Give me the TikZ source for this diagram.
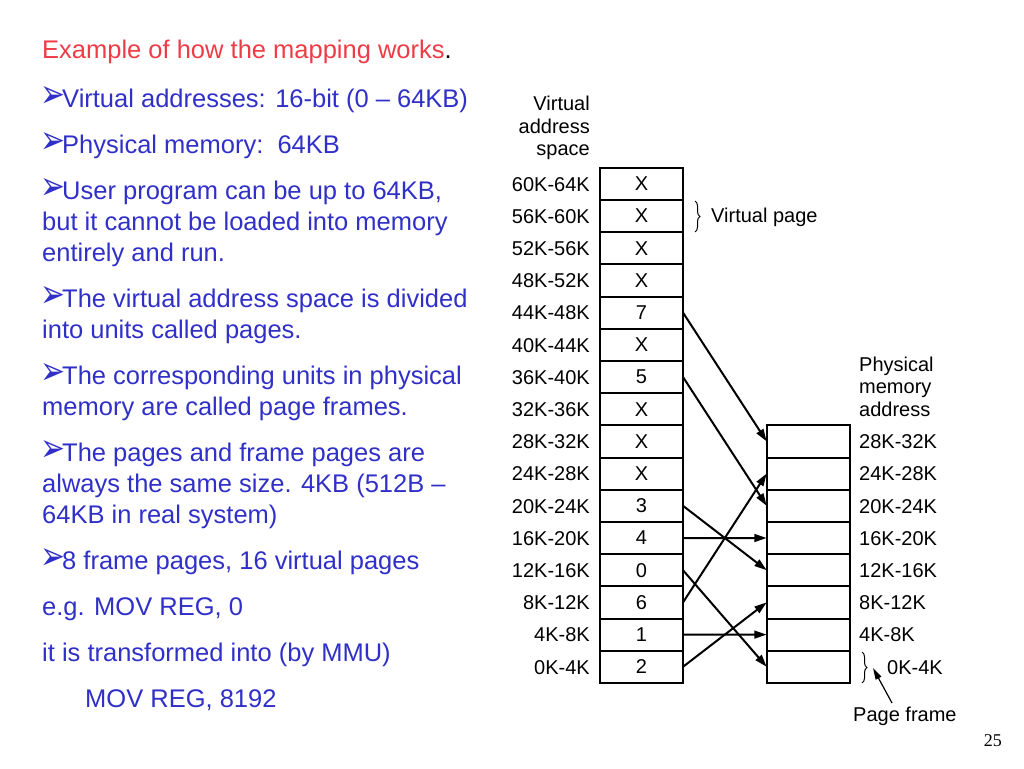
\documentclass[tikz,border=0pt]{standalone}
\usepackage{fontspec}
\setmainfont{Liberation Sans}
\newfontfamily\dingfont{DejaVu Sans}
\newfontfamily\numfont{Liberation Serif}
\usetikzlibrary{arrows.meta,decorations.pathreplacing}
\definecolor{slideblue}{RGB}{48,48,200}
\definecolor{slidered}{RGB}{238,60,70}
\newcommand{\bul}{\makebox[20pt][l]{\hspace{-2pt}\raisebox{0pt}{\resizebox{25pt}{21pt}{\dingfont ➢}}}}

\begin{document}
\begin{tikzpicture}[x=1pt,y=-1pt,
	line/.style={anchor=base west,inner sep=0pt,text=slideblue,font=\fontsize{25.5}{31}\selectfont},
	lab/.style={inner sep=0pt,font=\fontsize{20}{22.5}\selectfont},
	vbox/.style={draw,line width=2pt,minimum width=83pt,minimum height=32.2pt,outer sep=0pt,inner sep=0pt,font=\fontsize{20}{22}\selectfont},
	map/.style={line width=2pt,-{Triangle[angle=35:13pt]}},
	curly/.style={decorate,decoration={brace,amplitude=5pt},line width=1pt}]
	\useasboundingbox (0,0) rectangle (1024,768);

	% slide text
	\node[line,text=slidered] (title) at (42,59) {Example of how the mapping works\textcolor{black}{.}};
	\foreach \y/\t [count=\i] in {107/{\bul Virtual addresses: 16-bit (0 – 64KB)},
		153/{\bul Physical memory:~~64KB},
		199/{\bul User program can be up to 64KB,},
		230/{but it cannot be loaded into memory},
		261/{entirely and run.},
		307/{\bul The virtual address space is divided},
		338/{into units called pages.},
		384/{\bul The corresponding units in physical},
		415/{memory are called page frames.},
		461/{\bul The pages and frame pages are},
		492/{always the same size. 4KB (512B –},
		523/{64KB in real system)},
		569/{\bul 8 frame pages, 16 virtual pages},
		615/{e.g. MOV REG, 0},
		661/{it is transformed into (by MMU)}}
		\node[line] (line\i) at (42,\y) {\t};
	\node[line] (mov) at (85,707) {MOV REG, 8192};

	% virtual address space
	\node[lab,anchor=north east,align=right] (vhead) at (590,96) {Virtual\\address\\space};
	\foreach \k/\e in {15/X,14/X,13/X,12/X,11/7,10/X,9/5,8/X,7/X,6/X,5/3,4/4,3/0,2/6,1/1,0/2}{
		\pgfmathtruncatemacro\lo{4*\k}
		\pgfmathtruncatemacro\hi{4*\k+4}
		\node[vbox] (v\k) at (641.5,{183.8+(15-\k)*32.2}) {\e};
		\node[lab,anchor=base east] (vl\k) at (590,{191+(15-\k)*32.2}) {\lo K-\hi K};
	}
	\draw[curly] (695,201) -- (695,232);
	\node[lab,anchor=base west] (vpage) at (711,222) {Virtual page};

	% physical memory
	\node[lab,anchor=north west,align=left] (phead) at (859,356.5) {Physical\\memory\\address};
	\foreach \k in {0,...,7}{
		\pgfmathtruncatemacro\lo{4*\k}
		\pgfmathtruncatemacro\hi{4*\k+4}
		\pgfmathsetmacro\lx{\k==0 ? 887 : 859}
		\node[vbox,minimum width=83.3pt] (p\k) at (808.3,{441.4+(7-\k)*32.2}) {};
		\node[lab,anchor=base west] (pl\k) at (\lx,{448.6+(7-\k)*32.2}) {\lo K-\hi K};
	}
	\draw[curly] (862,652) -- (862,683);
	\node[lab,anchor=base west] (pframe) at (853,721) {Page frame};
	\coordinate (ptail) at (892,703);
	\coordinate (ptip) at (873,668);
	\draw[line width=1.2pt,-{Triangle[angle=30:12pt]}] (ptail) -- (ptip);

	% page table mapping
	\foreach \v/\p in {11/7,9/5,5/3,4/4,3/0,2/6,1/1,0/2}
		\draw[map] (v\v.east) -- (p\p.west);

	\node[anchor=base east,inner sep=0pt,font=\numfont\fontsize{18}{18}\selectfont] (pnum) at (1002,746) {25};
\end{tikzpicture}
\end{document}
